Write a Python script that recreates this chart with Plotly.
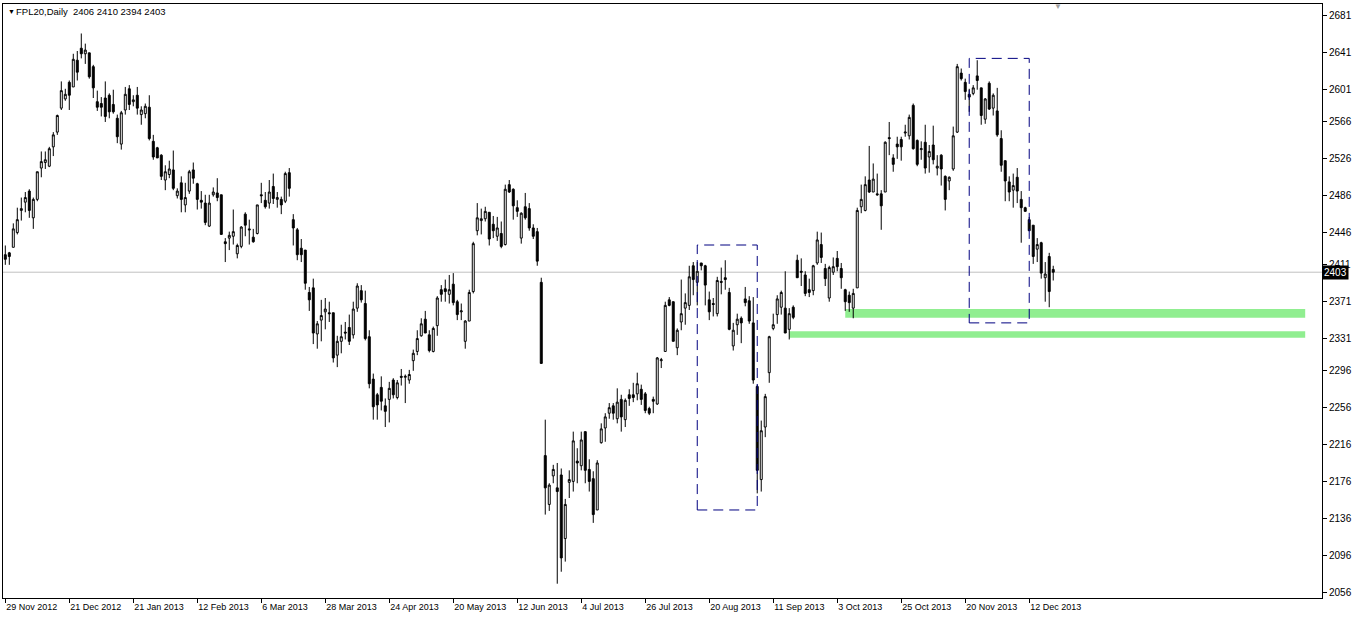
import plotly.graph_objects as go

# ---------------- data ----------------
open_ = [
    2422, 2424, 2430, 2446, 2470, 2479, 2491, 2462, 2482, 2516, 2522, 2518, 2539, 2555, 2581, 2591,
    2609, 2604, 2633, 2646, 2640, 2641, 2626, 2588, 2586, 2592, 2595, 2585, 2570, 2542, 2579, 2602,
    2588, 2595, 2574, 2575, 2582, 2545, 2538, 2530, 2503, 2509, 2514, 2486, 2500, 2476, 2491, 2514,
    2499, 2481, 2478, 2453, 2487, 2489, 2487, 2436, 2440, 2442, 2423, 2431, 2466, 2450, 2441, 2445,
    2487, 2481, 2478, 2496, 2482, 2482, 2480, 2511, 2460, 2449, 2429, 2427, 2381, 2386, 2336, 2351,
    2360, 2359, 2359, 2313, 2328, 2338, 2343, 2335, 2364, 2383, 2369, 2333, 2287, 2270, 2278, 2258,
    2265, 2286, 2267, 2290, 2289, 2286, 2307, 2317, 2334, 2352, 2335, 2317, 2345, 2384, 2385, 2379,
    2390, 2371, 2360, 2328, 2350, 2382, 2448, 2459, 2461, 2468, 2455, 2442, 2445, 2433, 2498, 2493,
    2473, 2440, 2474, 2472, 2451, 2447, 2392, 2204, 2151, 2182, 2169, 2183, 2114, 2175, 2176, 2198,
    2193, 2230, 2189, 2179, 2145, 2218, 2234, 2250, 2258, 2244, 2265, 2243, 2270, 2270, 2271, 2276,
    2271, 2255, 2265, 2260, 2307, 2317, 2373, 2371, 2321, 2349, 2364, 2367, 2410, 2392, 2413, 2410,
    2373, 2369, 2358, 2393, 2397, 2381, 2323, 2346, 2353, 2374, 2372, 2348, 2279, 2178, 2235, 2294,
    2342, 2357, 2365, 2364, 2341, 2365, 2416, 2404, 2400, 2384, 2383, 2413, 2433, 2407, 2375, 2403,
    2418, 2407, 2384, 2378, 2364, 2386, 2474, 2470, 2503, 2490, 2488, 2488, 2490, 2549, 2527, 2542,
    2547, 2554, 2551, 2584, 2546, 2536, 2544, 2528, 2541, 2516, 2530, 2507, 2502, 2515, 2555, 2619,
    2609, 2596, 2597, 2616, 2603, 2569, 2608, 2581, 2578, 2548, 2524, 2501, 2492, 2506, 2482, 2473,
    2460, 2454, 2428, 2435, 2397, 2420, 2406,
]
high = [
    2432, 2425, 2456, 2473, 2484, 2490, 2493, 2484, 2512, 2534, 2534, 2539, 2555, 2574, 2610, 2602,
    2611, 2640, 2643, 2662, 2651, 2641, 2628, 2600, 2593, 2610, 2597, 2601, 2574, 2578, 2604, 2606,
    2595, 2604, 2583, 2586, 2595, 2552, 2539, 2531, 2519, 2524, 2535, 2494, 2507, 2500, 2514, 2522,
    2500, 2491, 2487, 2487, 2495, 2505, 2487, 2440, 2447, 2471, 2434, 2453, 2468, 2460, 2450, 2476,
    2500, 2490, 2503, 2510, 2490, 2485, 2512, 2516, 2466, 2451, 2439, 2427, 2387, 2396, 2350, 2373,
    2375, 2371, 2359, 2334, 2346, 2349, 2357, 2371, 2391, 2389, 2383, 2340, 2293, 2272, 2290, 2266,
    2284, 2288, 2286, 2298, 2292, 2297, 2319, 2340, 2353, 2361, 2340, 2344, 2377, 2389, 2395, 2400,
    2402, 2373, 2369, 2351, 2384, 2436, 2478, 2472, 2474, 2468, 2464, 2463, 2458, 2498, 2503, 2494,
    2481, 2468, 2489, 2478, 2455, 2451, 2397, 2243, 2174, 2194, 2196, 2190, 2157, 2188, 2230, 2212,
    2230, 2230, 2200, 2187, 2199, 2239, 2250, 2261, 2261, 2277, 2270, 2266, 2276, 2283, 2294, 2281,
    2273, 2257, 2268, 2311, 2310, 2371, 2376, 2371, 2342, 2395, 2380, 2410, 2414, 2414, 2413, 2411,
    2382, 2375, 2398, 2408, 2416, 2386, 2348, 2358, 2355, 2387, 2377, 2376, 2281, 2242, 2271, 2334,
    2358, 2378, 2383, 2404, 2364, 2367, 2422, 2418, 2404, 2396, 2411, 2447, 2446, 2412, 2410, 2419,
    2426, 2413, 2385, 2382, 2385, 2473, 2498, 2507, 2540, 2521, 2510, 2492, 2545, 2566, 2531, 2550,
    2550, 2563, 2574, 2586, 2547, 2545, 2563, 2541, 2562, 2530, 2531, 2508, 2507, 2561, 2629, 2624,
    2613, 2602, 2606, 2633, 2603, 2592, 2610, 2597, 2603, 2557, 2524, 2507, 2510, 2516, 2491, 2474,
    2463, 2454, 2440, 2436, 2414, 2424, 2410,
]
low = [
    2411, 2411, 2430, 2444, 2459, 2468, 2462, 2450, 2480, 2506, 2515, 2517, 2529, 2552, 2579, 2589,
    2579, 2604, 2611, 2635, 2629, 2613, 2592, 2578, 2572, 2566, 2570, 2575, 2543, 2536, 2574, 2579,
    2583, 2574, 2563, 2570, 2546, 2525, 2527, 2503, 2492, 2505, 2492, 2483, 2468, 2468, 2488, 2499,
    2471, 2472, 2454, 2452, 2485, 2480, 2444, 2414, 2427, 2433, 2418, 2429, 2442, 2433, 2435, 2444,
    2478, 2472, 2472, 2477, 2473, 2466, 2478, 2485, 2432, 2416, 2414, 2384, 2361, 2325, 2320, 2328,
    2341, 2349, 2305, 2300, 2315, 2330, 2324, 2331, 2360, 2370, 2329, 2277, 2243, 2243, 2253, 2235,
    2240, 2266, 2265, 2280, 2261, 2282, 2296, 2313, 2333, 2337, 2316, 2316, 2334, 2371, 2371, 2369,
    2367, 2351, 2351, 2320, 2350, 2380, 2443, 2444, 2458, 2432, 2440, 2437, 2429, 2432, 2489, 2460,
    2463, 2434, 2460, 2448, 2439, 2410, 2304, 2140, 2144, 2174, 2065, 2078, 2089, 2158, 2165, 2174,
    2188, 2174, 2165, 2131, 2145, 2217, 2219, 2244, 2243, 2239, 2230, 2235, 2258, 2262, 2264, 2259,
    2250, 2248, 2250, 2259, 2299, 2317, 2366, 2328, 2313, 2340, 2346, 2362, 2378, 2367, 2405, 2367,
    2351, 2355, 2355, 2379, 2384, 2340, 2318, 2335, 2326, 2366, 2347, 2282, 2163, 2165, 2224, 2283,
    2340, 2347, 2357, 2337, 2330, 2352, 2397, 2388, 2377, 2376, 2378, 2411, 2413, 2388, 2371, 2400,
    2404, 2385, 2361, 2360, 2353, 2386, 2467, 2469, 2489, 2490, 2486, 2449, 2490, 2530, 2512, 2526,
    2524, 2550, 2547, 2536, 2518, 2525, 2510, 2511, 2520, 2508, 2497, 2470, 2492, 2513, 2554, 2611,
    2590, 2577, 2595, 2601, 2563, 2564, 2579, 2573, 2550, 2512, 2480, 2480, 2473, 2478, 2435, 2469,
    2448, 2412, 2414, 2396, 2371, 2365, 2394,
]
close = [
    2417, 2420, 2450, 2460, 2472, 2484, 2470, 2482, 2512, 2523, 2525, 2537, 2552, 2573, 2600, 2596,
    2595, 2634, 2620, 2640, 2644, 2615, 2603, 2582, 2582, 2572, 2577, 2577, 2550, 2576, 2596, 2585,
    2590, 2581, 2579, 2583, 2548, 2528, 2527, 2507, 2512, 2515, 2494, 2491, 2482, 2484, 2512, 2505,
    2482, 2479, 2457, 2478, 2490, 2484, 2444, 2434, 2443, 2447, 2432, 2452, 2454, 2449, 2436, 2476,
    2486, 2474, 2490, 2483, 2484, 2476, 2510, 2494, 2451, 2422, 2422, 2391, 2373, 2337, 2347, 2356,
    2363, 2358, 2310, 2328, 2333, 2337, 2328, 2363, 2388, 2373, 2331, 2282, 2257, 2259, 2263, 2252,
    2277, 2270, 2283, 2289, 2290, 2292, 2315, 2331, 2347, 2337, 2318, 2342, 2375, 2379, 2382, 2384,
    2370, 2357, 2361, 2350, 2381, 2434, 2462, 2461, 2469, 2439, 2448, 2451, 2431, 2493, 2490, 2475,
    2469, 2467, 2462, 2451, 2442, 2415, 2304, 2169, 2172, 2189, 2165, 2093, 2151, 2178, 2220, 2196,
    2221, 2188, 2176, 2140, 2196, 2233, 2246, 2256, 2250, 2262, 2246, 2264, 2266, 2267, 2282, 2265,
    2253, 2250, 2263, 2310, 2308, 2367, 2367, 2328, 2340, 2358, 2370, 2398, 2395, 2404, 2410, 2389,
    2360, 2368, 2394, 2392, 2395, 2341, 2340, 2352, 2348, 2370, 2350, 2286, 2188, 2231, 2268, 2333,
    2346, 2374, 2381, 2337, 2358, 2354, 2397, 2403, 2380, 2381, 2410, 2438, 2419, 2396, 2408, 2409,
    2409, 2397, 2371, 2370, 2380, 2470, 2482, 2498, 2490, 2504, 2487, 2475, 2544, 2548, 2520, 2539,
    2539, 2555, 2571, 2537, 2520, 2537, 2516, 2534, 2525, 2518, 2515, 2482, 2506, 2551, 2626, 2613,
    2599, 2593, 2603, 2611, 2573, 2591, 2580, 2595, 2552, 2519, 2502, 2490, 2497, 2491, 2473, 2469,
    2448, 2420, 2433, 2402, 2401, 2382, 2403,
]
bar_index = list(range(len(close)))

date_label_bars = [0, 16, 32, 48, 64, 80, 96, 112, 128, 144, 160, 176, 192, 208, 224, 240, 256]
date_labels = [
    "29 Nov 2012", "21 Dec 2012", "21 Jan 2013", "12 Feb 2013", "6 Mar 2013", "28 Mar 2013",
    "24 Apr 2013", "20 May 2013", "12 Jun 2013", "4 Jul 2013", "26 Jul 2013", "20 Aug 2013",
    "11 Sep 2013", "3 Oct 2013", "25 Oct 2013", "20 Nov 2013", "12 Dec 2013",
]
price_ticks = [2681, 2641, 2601, 2566, 2526, 2486, 2446, 2411, 2371, 2331,
               2296, 2256, 2216, 2176, 2136, 2096, 2056]

symbol_title = "FPL20,Daily"
# support zones: (start bar, end bar, low price, high price)
support_zones = [(210, 325, 2353.6, 2363.1), (196, 325, 2332.0, 2339.0)]
# dashed highlight boxes: (start bar, end bar, low price, high price)
highlight_boxes = [(173, 188, 2145.0, 2432.5), (241, 256, 2348.0, 2635.0)]

FONT = "Liberation Sans, Arial, sans-serif"

fig = go.Figure()
fig.add_trace(go.Candlestick(
    x=bar_index, open=open_, high=high, low=low, close=close,
    increasing=dict(line=dict(color="black", width=1), fillcolor="white"),
    decreasing=dict(line=dict(color="black", width=1), fillcolor="black"),
    whiskerwidth=0, hoverinfo="skip", showlegend=False,
))

shapes = []
for x0, x1, y0, y1 in support_zones:
    shapes.append(dict(type="rect", xref="x", yref="y", x0=x0, x1=x1, y0=y0, y1=y1,
                       fillcolor="#90EE90", line=dict(width=0), layer="below"))
shapes.append(dict(type="line", xref="paper", yref="y", x0=0, x1=1, y0=close[-1], y1=close[-1],
                   line=dict(color="#C0C0C0", width=1), layer="below"))
for x0, x1, y0, y1 in highlight_boxes:
    shapes.append(dict(type="rect", xref="x", yref="y", x0=x0, x1=x1, y0=y0, y1=y1,
                       line=dict(color="#000080", width=1, dash="10px,6px"),
                       fillcolor="rgba(0,0,0,0)", layer="above"))

annotations = [
    dict(xref="paper", yref="paper", x=0.002, y=0.987, xanchor="left", yanchor="middle",
         text="▼", showarrow=False, font=dict(family=FONT, size=7, color="black")),
    dict(xref="paper", yref="paper", x=0.0085, y=0.987, xanchor="left", yanchor="middle",
         text=f"{symbol_title}  {open_[-1]} {high[-1]} {low[-1]} {close[-1]}",
         showarrow=False, font=dict(family=FONT, size=9.5, color="black")),
    dict(xref="paper", yref="y", x=1.0, y=close[-1], xanchor="left", yanchor="middle",
         text=str(close[-1]), showarrow=False, bgcolor="black", borderpad=1,
         font=dict(family=FONT, size=10, color="white")),
    dict(xref="x", yref="paper", x=len(close) + 0.3, y=1.006, xanchor="center", yanchor="top",
         text="▼", showarrow=False, font=dict(family=FONT, size=8, color="#A0A0A0")),
]

fig.update_layout(
    width=1366, height=618,
    margin=dict(l=3, r=44, t=4, b=20, autoexpand=False),
    paper_bgcolor="white", plot_bgcolor="white",
    showlegend=False,
    font=dict(family=FONT, size=10, color="black"),
    shapes=shapes, annotations=annotations,
    xaxis=dict(
        range=[-0.575, 329.2], tickmode="array", tickvals=date_label_bars, ticktext=date_labels,
        ticklabelposition="outside right", tickangle=0, ticks="outside", ticklen=4,
        tickcolor="black", automargin=False,
        showline=True, linecolor="black", linewidth=1, mirror=True,
        showgrid=False, zeroline=False, rangeslider=dict(visible=False),
        tickfont=dict(family=FONT, size=9, color="black"),
    ),
    yaxis=dict(
        side="right", range=[2049.5, 2694.0], tickmode="array", tickvals=price_ticks,
        ticks="outside", ticklen=4, tickcolor="black", automargin=False,
        showline=True, linecolor="black", linewidth=1, mirror=True,
        showgrid=False, zeroline=False,
        tickfont=dict(family=FONT, size=10, color="black"),
    ),
)

fig.write_html("out.html", config={"displayModeBar": False},
               post_script="document.body.style.margin='0px';")
